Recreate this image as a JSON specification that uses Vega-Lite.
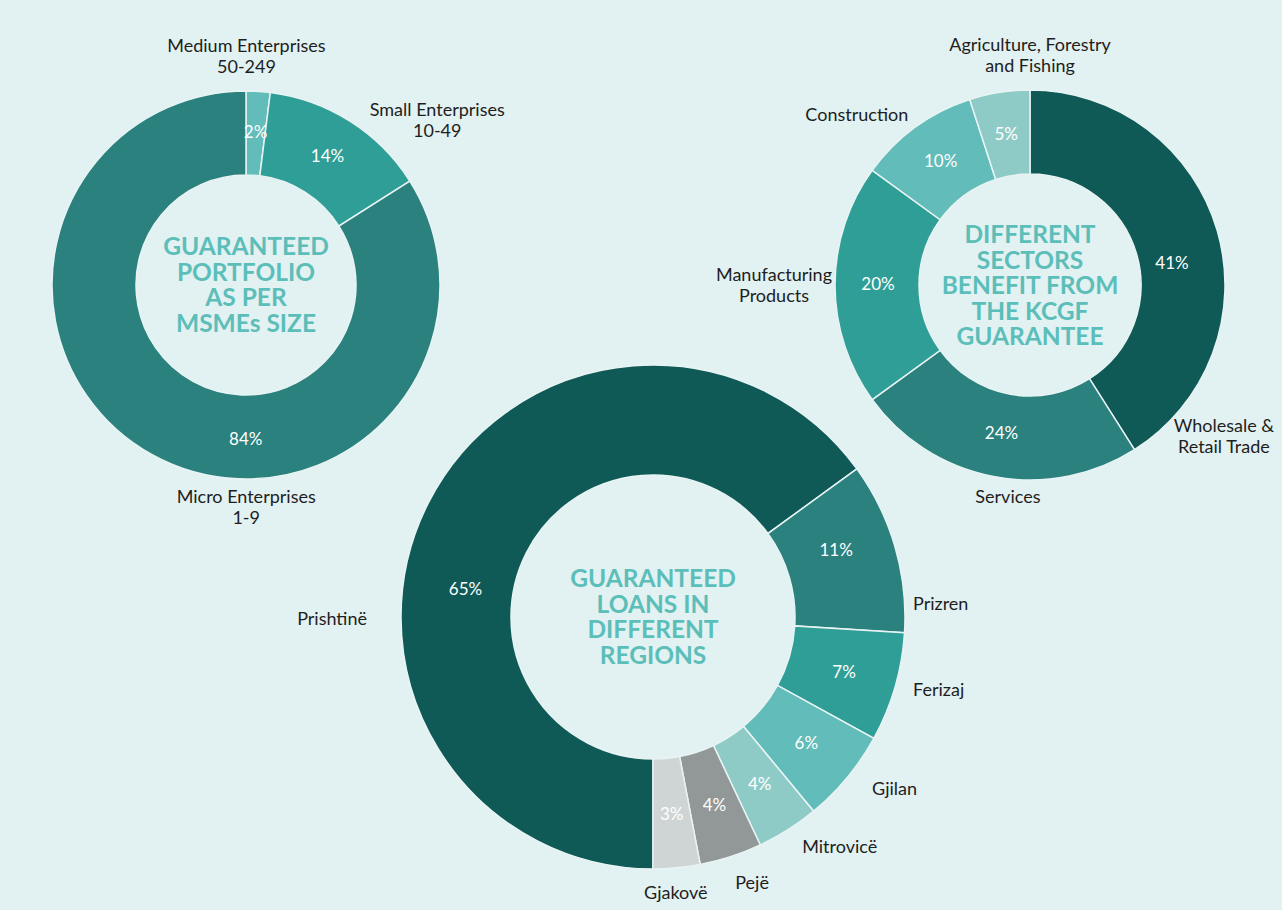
{
"$schema":"https://vega.github.io/schema/vega-lite/v6.json",
"width":1282,"height":910,"padding":0,"autosize":{"type":"none"},
"background":"#E2F1F1",
"config":{"view":{"stroke":null},"text":{"font":"Lato"}},
"datasets":{
"shares":[
{"panel":1,"category":"Medium Enterprises","label":"Medium Enterprises\n50-249","value":0.02,"order":1},
{"panel":1,"category":"Small Enterprises","label":"Small Enterprises\n10-49","value":0.14,"order":2},
{"panel":1,"category":"Micro Enterprises","label":"Micro Enterprises\n1-9","value":0.84,"order":3},
{"panel":2,"category":"Prishtinë","label":"Prishtinë","value":0.65,"order":1},
{"panel":2,"category":"Prizren","label":"Prizren","value":0.11,"order":2},
{"panel":2,"category":"Ferizaj","label":"Ferizaj","value":0.07,"order":3},
{"panel":2,"category":"Gjilan","label":"Gjilan","value":0.06,"order":4},
{"panel":2,"category":"Mitrovicë","label":"Mitrovicë","value":0.04,"order":5},
{"panel":2,"category":"Pejë","label":"Pejë","value":0.04,"order":6},
{"panel":2,"category":"Gjakovë","label":"Gjakovë","value":0.03,"order":7},
{"panel":3,"category":"Wholesale & Retail Trade","label":"Wholesale &\nRetail Trade","value":0.41,"order":1},
{"panel":3,"category":"Services","label":"Services","value":0.24,"order":2},
{"panel":3,"category":"Manufacturing Products","label":"Manufacturing\nProducts","value":0.20,"order":3},
{"panel":3,"category":"Construction","label":"Construction","value":0.10,"order":4},
{"panel":3,"category":"Agriculture, Forestry and Fishing","label":"Agriculture, Forestry\nand Fishing","value":0.05,"order":5}
],
"titles":[
{"panel":1,"lines":4,"title":"GUARANTEED\nPORTFOLIO\nAS PER\nMSMEs SIZE"},
{"panel":2,"lines":4,"title":"GUARANTEED\nLOANS IN\nDIFFERENT\nREGIONS"},
{"panel":3,"lines":5,"title":"DIFFERENT\nSECTORS\nBENEFIT FROM\nTHE KCGF\nGUARANTEE"}
]
},
"data":{"name":"shares"},
"resolve":{"scale":{"theta":"independent"}},
"layer":[
{"transform":[{"filter":"datum.panel == 1"}],
 "mark":{"type":"arc","outerRadius":194,"innerRadius":110,"stroke":"#E8F4F4","strokeWidth":1.5},
 "encoding":{
  "x":{"field":"panel","type":"quantitative","scale":{"domain":[1,2,3],"range":[246,653,1030],"zero":false,"nice":false},"axis":null},
  "y":{"field":"panel","type":"quantitative","scale":{"domain":[1,2,3],"range":[285,617,285],"zero":false,"nice":false},"axis":null},
  "theta":{"field":"value","type":"quantitative","stack":true},
  "order":{"field":"order","type":"quantitative"},
  "color":{"field":"category","type":"nominal","legend":null,"scale":{"domain":["Medium Enterprises","Small Enterprises","Micro Enterprises","Prishtinë","Prizren","Ferizaj","Gjilan","Mitrovicë","Pejë","Gjakovë","Wholesale & Retail Trade","Services","Manufacturing Products","Construction","Agriculture, Forestry and Fishing"],"range":["#62BCB9","#2F9E96","#2A817D","#0F5A57","#2A817D","#2F9E96","#62BCB9","#8FCBC6","#929797","#CFD5D5","#0F5A57","#2A817D","#2F9E96","#62BCB9","#8FCBC6"]}}
 }},
{"transform":[{"filter":"datum.panel == 2"}],
 "mark":{"type":"arc","outerRadius":252,"innerRadius":142,"stroke":"#E8F4F4","strokeWidth":1.5},
 "encoding":{
  "x":{"field":"panel","type":"quantitative","scale":{"domain":[1,2,3],"range":[246,653,1030],"zero":false,"nice":false},"axis":null},
  "y":{"field":"panel","type":"quantitative","scale":{"domain":[1,2,3],"range":[285,617,285],"zero":false,"nice":false},"axis":null},
  "theta":{"field":"value","type":"quantitative","stack":true,"scale":{"range":[3.14159265,9.42477796]}},
  "order":{"field":"order","type":"quantitative"},
  "color":{"field":"category","type":"nominal","legend":null}
 }},
{"transform":[{"filter":"datum.panel == 3"}],
 "mark":{"type":"arc","outerRadius":195,"innerRadius":111,"stroke":"#E8F4F4","strokeWidth":1.5},
 "encoding":{
  "x":{"field":"panel","type":"quantitative","scale":{"domain":[1,2,3],"range":[246,653,1030],"zero":false,"nice":false},"axis":null},
  "y":{"field":"panel","type":"quantitative","scale":{"domain":[1,2,3],"range":[285,617,285],"zero":false,"nice":false},"axis":null},
  "theta":{"field":"value","type":"quantitative","stack":true},
  "order":{"field":"order","type":"quantitative"},
  "color":{"field":"category","type":"nominal","legend":null}
 }},
{"data":{"name":"titles"},"transform":[{"filter":"datum.lines == 4"}],
 "mark":{"type":"text","fontSize":24.5,"fontWeight":"bold","fill":"#5CBEB9","lineBreak":"\n","lineHeight":25.5,"align":"center","baseline":"middle","dy":-37},
 "encoding":{
  "x":{"field":"panel","type":"quantitative","scale":{"domain":[1,2,3],"range":[246,653,1030],"zero":false,"nice":false},"axis":null},
  "y":{"field":"panel","type":"quantitative","scale":{"domain":[1,2,3],"range":[285,617,285],"zero":false,"nice":false},"axis":null},
  "text":{"field":"title"}
 }},
{"data":{"name":"titles"},"transform":[{"filter":"datum.lines == 5"}],
 "mark":{"type":"text","fontSize":24.5,"fontWeight":"bold","fill":"#5CBEB9","lineBreak":"\n","lineHeight":25.5,"align":"center","baseline":"middle","dy":-49},
 "encoding":{
  "x":{"field":"panel","type":"quantitative","scale":{"domain":[1,2,3],"range":[246,653,1030],"zero":false,"nice":false},"axis":null},
  "y":{"field":"panel","type":"quantitative","scale":{"domain":[1,2,3],"range":[285,617,285],"zero":false,"nice":false},"axis":null},
  "text":{"field":"title"}
 }},
{"transform":[{"filter":"datum.panel == 1"}],
 "mark":{"type":"text","radius":152,"fill":"#FFFFFF","fontSize":17},
 "encoding":{
  "x":{"field":"panel","type":"quantitative","scale":{"domain":[1,2,3],"range":[246,653,1030],"zero":false,"nice":false},"axis":null},
  "y":{"field":"panel","type":"quantitative","scale":{"domain":[1,2,3],"range":[285,617,285],"zero":false,"nice":false},"axis":null},
  "theta":{"field":"value","type":"quantitative","stack":true},
  "order":{"field":"order","type":"quantitative"},
  "text":{"field":"value","type":"quantitative","format":".0%"},
  "opacity":{"condition":{"test":"datum.category !== 'Micro Enterprises'","value":1},"value":0}
 }},
{"transform":[{"filter":"datum.panel == 1"}],
 "mark":{"type":"text","radius":152,"dx":73,"dy":22,"fill":"#FFFFFF","fontSize":17},
 "encoding":{
  "x":{"field":"panel","type":"quantitative","scale":{"domain":[1,2,3],"range":[246,653,1030],"zero":false,"nice":false},"axis":null},
  "y":{"field":"panel","type":"quantitative","scale":{"domain":[1,2,3],"range":[285,617,285],"zero":false,"nice":false},"axis":null},
  "theta":{"field":"value","type":"quantitative","stack":true},
  "order":{"field":"order","type":"quantitative"},
  "text":{"field":"value","type":"quantitative","format":".0%"},
  "opacity":{"condition":{"test":"datum.category === 'Micro Enterprises'","value":1},"value":0}
 }},
{"transform":[{"filter":"datum.panel == 3"}],
 "mark":{"type":"text","radius":152,"fill":"#FFFFFF","fontSize":17},
 "encoding":{
  "x":{"field":"panel","type":"quantitative","scale":{"domain":[1,2,3],"range":[246,653,1030],"zero":false,"nice":false},"axis":null},
  "y":{"field":"panel","type":"quantitative","scale":{"domain":[1,2,3],"range":[285,617,285],"zero":false,"nice":false},"axis":null},
  "theta":{"field":"value","type":"quantitative","stack":true},
  "order":{"field":"order","type":"quantitative"},
  "text":{"field":"value","type":"quantitative","format":".0%"},
  "opacity":{"condition":{"test":"datum.category !== 'Wholesale & Retail Trade'","value":1},"value":0}
 }},
{"transform":[{"filter":"datum.panel == 3"}],
 "mark":{"type":"text","radius":152,"dx":-4,"dy":21,"fill":"#FFFFFF","fontSize":17},
 "encoding":{
  "x":{"field":"panel","type":"quantitative","scale":{"domain":[1,2,3],"range":[246,653,1030],"zero":false,"nice":false},"axis":null},
  "y":{"field":"panel","type":"quantitative","scale":{"domain":[1,2,3],"range":[285,617,285],"zero":false,"nice":false},"axis":null},
  "theta":{"field":"value","type":"quantitative","stack":true},
  "order":{"field":"order","type":"quantitative"},
  "text":{"field":"value","type":"quantitative","format":".0%"},
  "opacity":{"condition":{"test":"datum.category === 'Wholesale & Retail Trade'","value":1},"value":0}
 }},
{"transform":[{"filter":"datum.panel == 2"}],
 "mark":{"type":"text","radius":199,"fill":"#FFFFFF","fontSize":17},
 "encoding":{
  "x":{"field":"panel","type":"quantitative","scale":{"domain":[1,2,3],"range":[246,653,1030],"zero":false,"nice":false},"axis":null},
  "y":{"field":"panel","type":"quantitative","scale":{"domain":[1,2,3],"range":[285,617,285],"zero":false,"nice":false},"axis":null},
  "theta":{"field":"value","type":"quantitative","stack":true,"scale":{"range":[3.14159265,9.42477796]}},
  "order":{"field":"order","type":"quantitative"},
  "text":{"field":"value","type":"quantitative","format":".0%"},
  "opacity":{"condition":{"test":"datum.category !== 'Prishtinë' && datum.category !== 'Prizren'","value":1},"value":0}
 }},
{"transform":[{"filter":"datum.panel == 2"}],
 "mark":{"type":"text","radius":197,"dx":-12,"dy":62,"fill":"#FFFFFF","fontSize":17},
 "encoding":{
  "x":{"field":"panel","type":"quantitative","scale":{"domain":[1,2,3],"range":[246,653,1030],"zero":false,"nice":false},"axis":null},
  "y":{"field":"panel","type":"quantitative","scale":{"domain":[1,2,3],"range":[285,617,285],"zero":false,"nice":false},"axis":null},
  "theta":{"field":"value","type":"quantitative","stack":true,"scale":{"range":[3.14159265,9.42477796]}},
  "order":{"field":"order","type":"quantitative"},
  "text":{"field":"value","type":"quantitative","format":".0%"},
  "opacity":{"condition":{"test":"datum.category === 'Prishtinë'","value":1},"value":0}
 }},
{"transform":[{"filter":"datum.panel == 2"}],
 "mark":{"type":"text","radius":197,"dx":-6,"dy":-11,"fill":"#FFFFFF","fontSize":17},
 "encoding":{
  "x":{"field":"panel","type":"quantitative","scale":{"domain":[1,2,3],"range":[246,653,1030],"zero":false,"nice":false},"axis":null},
  "y":{"field":"panel","type":"quantitative","scale":{"domain":[1,2,3],"range":[285,617,285],"zero":false,"nice":false},"axis":null},
  "theta":{"field":"value","type":"quantitative","stack":true,"scale":{"range":[3.14159265,9.42477796]}},
  "order":{"field":"order","type":"quantitative"},
  "text":{"field":"value","type":"quantitative","format":".0%"},
  "opacity":{"condition":{"test":"datum.category === 'Prizren'","value":1},"value":0}
 }},
{"transform":[{"filter":"datum.panel == 1"}],
 "mark":{"type":"text","radius":230,"dx":-14,"dy":-8.5,"fill":"#1E1E1E","fontSize":18,"lineBreak":"\n","lineHeight":21},
 "encoding":{
  "x":{"field":"panel","type":"quantitative","scale":{"domain":[1,2,3],"range":[246,653,1030],"zero":false,"nice":false},"axis":null},
  "y":{"field":"panel","type":"quantitative","scale":{"domain":[1,2,3],"range":[285,617,285],"zero":false,"nice":false},"axis":null},
  "theta":{"field":"value","type":"quantitative","stack":true},
  "order":{"field":"order","type":"quantitative"},
  "text":{"field":"label"},
  "opacity":{"condition":{"test":"datum.category === 'Medium Enterprises'","value":1},"value":0}
 }},
{"transform":[{"filter":"datum.panel == 1"}],
 "mark":{"type":"text","radius":230,"dx":68,"dy":20.5,"fill":"#1E1E1E","fontSize":18,"lineBreak":"\n","lineHeight":21},
 "encoding":{
  "x":{"field":"panel","type":"quantitative","scale":{"domain":[1,2,3],"range":[246,653,1030],"zero":false,"nice":false},"axis":null},
  "y":{"field":"panel","type":"quantitative","scale":{"domain":[1,2,3],"range":[285,617,285],"zero":false,"nice":false},"axis":null},
  "theta":{"field":"value","type":"quantitative","stack":true},
  "order":{"field":"order","type":"quantitative"},
  "text":{"field":"label"},
  "opacity":{"condition":{"test":"datum.category === 'Small Enterprises'","value":1},"value":0}
 }},
{"transform":[{"filter":"datum.panel == 1"}],
 "mark":{"type":"text","radius":230,"dx":111,"dy":11.5,"fill":"#1E1E1E","fontSize":18,"lineBreak":"\n","lineHeight":21},
 "encoding":{
  "x":{"field":"panel","type":"quantitative","scale":{"domain":[1,2,3],"range":[246,653,1030],"zero":false,"nice":false},"axis":null},
  "y":{"field":"panel","type":"quantitative","scale":{"domain":[1,2,3],"range":[285,617,285],"zero":false,"nice":false},"axis":null},
  "theta":{"field":"value","type":"quantitative","stack":true},
  "order":{"field":"order","type":"quantitative"},
  "text":{"field":"label"},
  "opacity":{"condition":{"test":"datum.category === 'Micro Enterprises'","value":1},"value":0}
 }},
{"transform":[{"filter":"datum.panel == 3"}],
 "mark":{"type":"text","radius":230,"dx":36,"dy":-11.5,"fill":"#1E1E1E","fontSize":18,"lineBreak":"\n","lineHeight":21},
 "encoding":{
  "x":{"field":"panel","type":"quantitative","scale":{"domain":[1,2,3],"range":[246,653,1030],"zero":false,"nice":false},"axis":null},
  "y":{"field":"panel","type":"quantitative","scale":{"domain":[1,2,3],"range":[285,617,285],"zero":false,"nice":false},"axis":null},
  "theta":{"field":"value","type":"quantitative","stack":true},
  "order":{"field":"order","type":"quantitative"},
  "text":{"field":"label"},
  "opacity":{"condition":{"test":"datum.category === 'Agriculture, Forestry and Fishing'","value":1},"value":0}
 }},
{"transform":[{"filter":"datum.panel == 3"}],
 "mark":{"type":"text","radius":230,"dx":-38,"dy":17,"fill":"#1E1E1E","fontSize":18,"lineBreak":"\n","lineHeight":21},
 "encoding":{
  "x":{"field":"panel","type":"quantitative","scale":{"domain":[1,2,3],"range":[246,653,1030],"zero":false,"nice":false},"axis":null},
  "y":{"field":"panel","type":"quantitative","scale":{"domain":[1,2,3],"range":[285,617,285],"zero":false,"nice":false},"axis":null},
  "theta":{"field":"value","type":"quantitative","stack":true},
  "order":{"field":"order","type":"quantitative"},
  "text":{"field":"label"},
  "opacity":{"condition":{"test":"datum.category === 'Construction'","value":1},"value":0}
 }},
{"transform":[{"filter":"datum.panel == 3"}],
 "mark":{"type":"text","radius":230,"dx":-26,"dy":-9.5,"fill":"#1E1E1E","fontSize":18,"lineBreak":"\n","lineHeight":21},
 "encoding":{
  "x":{"field":"panel","type":"quantitative","scale":{"domain":[1,2,3],"range":[246,653,1030],"zero":false,"nice":false},"axis":null},
  "y":{"field":"panel","type":"quantitative","scale":{"domain":[1,2,3],"range":[285,617,285],"zero":false,"nice":false},"axis":null},
  "theta":{"field":"value","type":"quantitative","stack":true},
  "order":{"field":"order","type":"quantitative"},
  "text":{"field":"label"},
  "opacity":{"condition":{"test":"datum.category === 'Manufacturing Products'","value":1},"value":0}
 }},
{"transform":[{"filter":"datum.panel == 3"}],
 "mark":{"type":"text","radius":230,"dx":21,"dy":-13,"fill":"#1E1E1E","fontSize":18,"lineBreak":"\n","lineHeight":21},
 "encoding":{
  "x":{"field":"panel","type":"quantitative","scale":{"domain":[1,2,3],"range":[246,653,1030],"zero":false,"nice":false},"axis":null},
  "y":{"field":"panel","type":"quantitative","scale":{"domain":[1,2,3],"range":[285,617,285],"zero":false,"nice":false},"axis":null},
  "theta":{"field":"value","type":"quantitative","stack":true},
  "order":{"field":"order","type":"quantitative"},
  "text":{"field":"label"},
  "opacity":{"condition":{"test":"datum.category === 'Services'","value":1},"value":0}
 }},
{"transform":[{"filter":"datum.panel == 3"}],
 "mark":{"type":"text","radius":230,"dx":-27,"dy":206.5,"fill":"#1E1E1E","fontSize":18,"lineBreak":"\n","lineHeight":21},
 "encoding":{
  "x":{"field":"panel","type":"quantitative","scale":{"domain":[1,2,3],"range":[246,653,1030],"zero":false,"nice":false},"axis":null},
  "y":{"field":"panel","type":"quantitative","scale":{"domain":[1,2,3],"range":[285,617,285],"zero":false,"nice":false},"axis":null},
  "theta":{"field":"value","type":"quantitative","stack":true},
  "order":{"field":"order","type":"quantitative"},
  "text":{"field":"label"},
  "opacity":{"condition":{"test":"datum.category === 'Wholesale & Retail Trade'","value":1},"value":0}
 }},
{"transform":[{"filter":"datum.panel == 2"}],
 "mark":{"type":"text","radius":285,"dx":-67,"dy":132,"fill":"#1E1E1E","fontSize":18},
 "encoding":{
  "x":{"field":"panel","type":"quantitative","scale":{"domain":[1,2,3],"range":[246,653,1030],"zero":false,"nice":false},"axis":null},
  "y":{"field":"panel","type":"quantitative","scale":{"domain":[1,2,3],"range":[285,617,285],"zero":false,"nice":false},"axis":null},
  "theta":{"field":"value","type":"quantitative","stack":true,"scale":{"range":[3.14159265,9.42477796]}},
  "order":{"field":"order","type":"quantitative"},
  "text":{"field":"label"},
  "opacity":{"condition":{"test":"datum.category === 'Prishtinë'","value":1},"value":0}
 }},
{"transform":[{"filter":"datum.panel == 2"}],
 "mark":{"type":"text","radius":285,"dx":14,"dy":68,"fill":"#1E1E1E","fontSize":18},
 "encoding":{
  "x":{"field":"panel","type":"quantitative","scale":{"domain":[1,2,3],"range":[246,653,1030],"zero":false,"nice":false},"axis":null},
  "y":{"field":"panel","type":"quantitative","scale":{"domain":[1,2,3],"range":[285,617,285],"zero":false,"nice":false},"axis":null},
  "theta":{"field":"value","type":"quantitative","stack":true,"scale":{"range":[3.14159265,9.42477796]}},
  "order":{"field":"order","type":"quantitative"},
  "text":{"field":"label"},
  "opacity":{"condition":{"test":"datum.category === 'Prizren'","value":1},"value":0}
 }},
{"transform":[{"filter":"datum.panel == 2"}],
 "mark":{"type":"text","radius":285,"dx":12,"dy":-6,"fill":"#1E1E1E","fontSize":18},
 "encoding":{
  "x":{"field":"panel","type":"quantitative","scale":{"domain":[1,2,3],"range":[246,653,1030],"zero":false,"nice":false},"axis":null},
  "y":{"field":"panel","type":"quantitative","scale":{"domain":[1,2,3],"range":[285,617,285],"zero":false,"nice":false},"axis":null},
  "theta":{"field":"value","type":"quantitative","stack":true,"scale":{"range":[3.14159265,9.42477796]}},
  "order":{"field":"order","type":"quantitative"},
  "text":{"field":"label"},
  "opacity":{"condition":{"test":"datum.category === 'Ferizaj'","value":1},"value":0}
 }},
{"transform":[{"filter":"datum.panel == 2"}],
 "mark":{"type":"text","radius":285,"dx":22,"dy":-9,"fill":"#1E1E1E","fontSize":18},
 "encoding":{
  "x":{"field":"panel","type":"quantitative","scale":{"domain":[1,2,3],"range":[246,653,1030],"zero":false,"nice":false},"axis":null},
  "y":{"field":"panel","type":"quantitative","scale":{"domain":[1,2,3],"range":[285,617,285],"zero":false,"nice":false},"axis":null},
  "theta":{"field":"value","type":"quantitative","stack":true,"scale":{"range":[3.14159265,9.42477796]}},
  "order":{"field":"order","type":"quantitative"},
  "text":{"field":"label"},
  "opacity":{"condition":{"test":"datum.category === 'Gjilan'","value":1},"value":0}
 }},
{"transform":[{"filter":"datum.panel == 2"}],
 "mark":{"type":"text","radius":285,"dx":34,"dy":-10,"fill":"#1E1E1E","fontSize":18},
 "encoding":{
  "x":{"field":"panel","type":"quantitative","scale":{"domain":[1,2,3],"range":[246,653,1030],"zero":false,"nice":false},"axis":null},
  "y":{"field":"panel","type":"quantitative","scale":{"domain":[1,2,3],"range":[285,617,285],"zero":false,"nice":false},"axis":null},
  "theta":{"field":"value","type":"quantitative","stack":true,"scale":{"range":[3.14159265,9.42477796]}},
  "order":{"field":"order","type":"quantitative"},
  "text":{"field":"label"},
  "opacity":{"condition":{"test":"datum.category === 'Mitrovicë'","value":1},"value":0}
 }},
{"transform":[{"filter":"datum.panel == 2"}],
 "mark":{"type":"text","radius":285,"dx":11,"dy":-4,"fill":"#1E1E1E","fontSize":18},
 "encoding":{
  "x":{"field":"panel","type":"quantitative","scale":{"domain":[1,2,3],"range":[246,653,1030],"zero":false,"nice":false},"axis":null},
  "y":{"field":"panel","type":"quantitative","scale":{"domain":[1,2,3],"range":[285,617,285],"zero":false,"nice":false},"axis":null},
  "theta":{"field":"value","type":"quantitative","stack":true,"scale":{"range":[3.14159265,9.42477796]}},
  "order":{"field":"order","type":"quantitative"},
  "text":{"field":"label"},
  "opacity":{"condition":{"test":"datum.category === 'Pejë'","value":1},"value":0}
 }},
{"transform":[{"filter":"datum.panel == 2"}],
 "mark":{"type":"text","radius":285,"dx":-4,"dy":-7,"fill":"#1E1E1E","fontSize":18},
 "encoding":{
  "x":{"field":"panel","type":"quantitative","scale":{"domain":[1,2,3],"range":[246,653,1030],"zero":false,"nice":false},"axis":null},
  "y":{"field":"panel","type":"quantitative","scale":{"domain":[1,2,3],"range":[285,617,285],"zero":false,"nice":false},"axis":null},
  "theta":{"field":"value","type":"quantitative","stack":true,"scale":{"range":[3.14159265,9.42477796]}},
  "order":{"field":"order","type":"quantitative"},
  "text":{"field":"label"},
  "opacity":{"condition":{"test":"datum.category === 'Gjakovë'","value":1},"value":0}
 }}
]
}
